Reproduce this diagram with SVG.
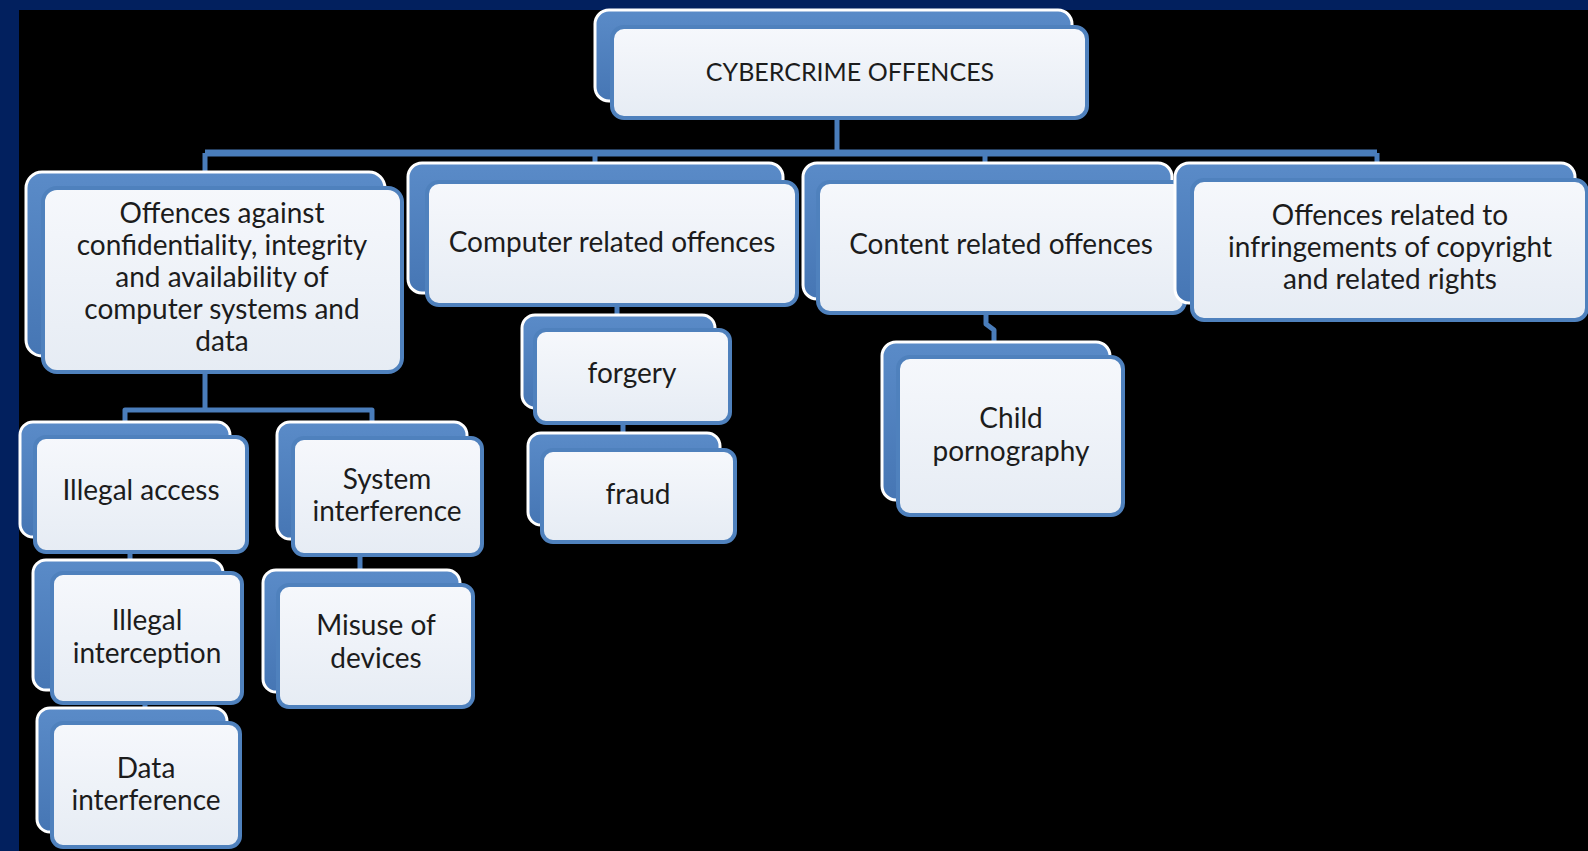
<svg xmlns="http://www.w3.org/2000/svg" width="1588" height="851" viewBox="0 0 1588 851">
<defs>
<linearGradient id="lg" x1="0" y1="0" x2="0" y2="1">
<stop offset="0" stop-color="#f6f8fc"/>
<stop offset="1" stop-color="#e6ecf4"/>
</linearGradient>
<linearGradient id="bg" x1="0" y1="0" x2="0" y2="1">
<stop offset="0" stop-color="#5a8bc8"/>
<stop offset="1" stop-color="#4676b4"/>
</linearGradient>
<style>
.back{fill:url(#bg);stroke:#ffffff;stroke-width:3}
.front{fill:url(#lg);stroke:#4f81bd;stroke-width:4}
.t{font-family:Lato,"Open Sans","Liberation Sans",sans-serif;font-size:28px;fill:#1c1c1c;text-anchor:middle}
.c{fill:none;stroke:#4a7dbb;stroke-width:5;stroke-linejoin:round}
</style>
</defs>
<rect x="0" y="0" width="1588" height="851" fill="#000000"/>
<rect x="0" y="0" width="1588" height="10" fill="#02205e"/>
<rect x="0" y="0" width="19" height="851" fill="#02205e"/>

<g id="connectors">
<path class="c" d="M837 118 V153"/>
<path class="c" style="stroke-width:7" d="M205 153 H1377"/>
<path class="c" d="M205 153 V172 M595 153 V163 M985 153 V163 M1377 153 V163"/>
<path class="c" d="M205 372 V410 M125 422 V410 H372 V422"/>
<path class="c" d="M130 552 V560 M360 555 V570 M145 703 V708"/>
<path class="c" d="M617 305 V315 M623 423 V433"/>
<path class="c" d="M986 313 V324 L994 330 V342"/>
</g>

<g id="root">
<rect class="back" x="595" y="10" width="477" height="91" rx="14"/>
<rect class="front" x="612" y="27" width="475" height="91" rx="12"/>
<text class="t" style="font-size:25px" x="850" y="81">CYBERCRIME OFFENCES</text>
</g>

<g id="n1">
<rect class="back" x="26" y="172" width="359" height="184" rx="16"/>
<rect class="front" x="43" y="188" width="359" height="184" rx="14"/>
<text class="t"><tspan x="222" y="223">Offences against</tspan><tspan x="222" y="255">confidentiality, integrity</tspan><tspan x="222" y="287">and availability of</tspan><tspan x="222" y="319">computer systems and</tspan><tspan x="222" y="351">data</tspan></text>
</g>

<g id="n2">
<rect class="back" x="408" y="163" width="375" height="130" rx="14"/>
<rect class="front" x="427" y="182" width="370" height="123" rx="12"/>
<text class="t" x="612" y="252">Computer related offences</text>
</g>

<g id="n3">
<rect class="back" x="803" y="163" width="369" height="136" rx="14"/>
<rect class="front" x="818" y="182" width="367" height="131" rx="12"/>
<text class="t" x="1001" y="254">Content related offences</text>
</g>

<g id="n4">
<rect class="back" x="1175" y="163" width="400" height="140" rx="14"/>
<rect class="front" x="1192" y="180" width="395" height="140" rx="12"/>
<text class="t"><tspan x="1390" y="225">Offences related to</tspan><tspan x="1390" y="257">infringements of copyright</tspan><tspan x="1390" y="289">and related rights</tspan></text>
</g>

<g id="n5">
<rect class="back" x="522" y="315" width="193" height="93" rx="13"/>
<rect class="front" x="535" y="330" width="195" height="93" rx="11"/>
<text class="t" x="632" y="383">forgery</text>
</g>

<g id="n6">
<rect class="back" x="528" y="433" width="192" height="92" rx="13"/>
<rect class="front" x="542" y="450" width="193" height="92" rx="11"/>
<text class="t" x="638" y="504">fraud</text>
</g>

<g id="n7">
<rect class="back" x="882" y="342" width="228" height="158" rx="14"/>
<rect class="front" x="898" y="357" width="225" height="158" rx="12"/>
<text class="t"><tspan x="1011" y="428">Child</tspan><tspan x="1011" y="461">pornography</tspan></text>
</g>

<g id="n8">
<rect class="back" x="20" y="422" width="210" height="115" rx="13"/>
<rect class="front" x="35" y="437" width="212" height="115" rx="11"/>
<text class="t" x="141" y="500">Illegal access</text>
</g>

<g id="n9">
<rect class="back" x="277" y="422" width="190" height="117" rx="13"/>
<rect class="front" x="293" y="438" width="189" height="117" rx="11"/>
<text class="t"><tspan x="387" y="489">System</tspan><tspan x="387" y="521">interference</tspan></text>
</g>

<g id="n10">
<rect class="back" x="33" y="560" width="190" height="130" rx="13"/>
<rect class="front" x="52" y="573" width="190" height="130" rx="11"/>
<text class="t"><tspan x="147" y="630">Illegal</tspan><tspan x="147" y="663">interception</tspan></text>
</g>

<g id="n11">
<rect class="back" x="263" y="570" width="197" height="122" rx="13"/>
<rect class="front" x="278" y="585" width="195" height="122" rx="11"/>
<text class="t"><tspan x="376" y="635">Misuse of</tspan><tspan x="376" y="668">devices</tspan></text>
</g>

<g id="n12">
<rect class="back" x="37" y="708" width="190" height="124" rx="13"/>
<rect class="front" x="52" y="723" width="188" height="124" rx="11"/>
<text class="t"><tspan x="146" y="778">Data</tspan><tspan x="146" y="810">interference</tspan></text>
</g>
</svg>
